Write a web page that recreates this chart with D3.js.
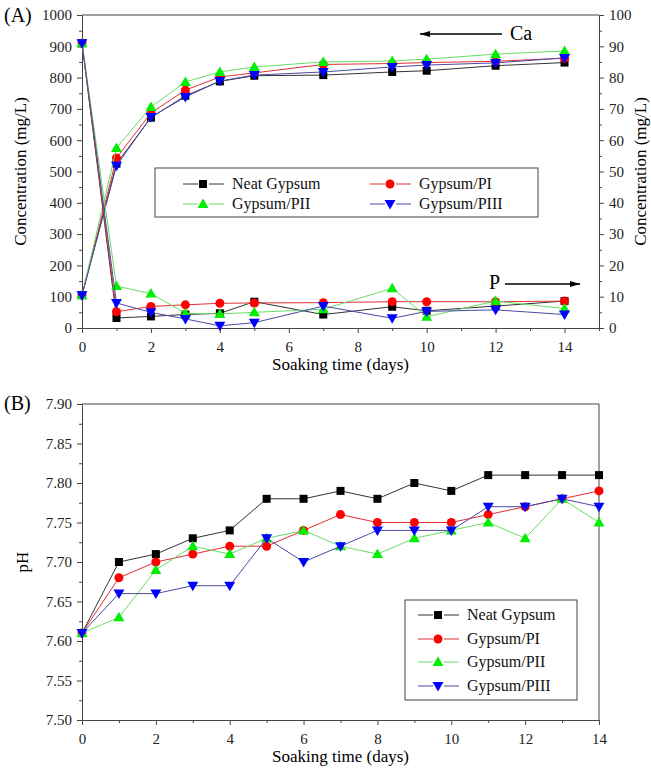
<!DOCTYPE html>
<html>
<head>
<meta charset="utf-8">
<script src="https://cdn.jsdelivr.net/npm/d3@7"></script>
<style>
  body { margin: 0; background: #fff; }
  .axis path, .axis line { stroke: #444; }
</style>
</head>
<body>
<div id="chart"></div>
<script>
// panel A: Ca and P concentration
const daysA = [0, 1, 2, 3, 4, 5, 7, 9, 10, 12, 14];
const caNeat = [105, 525, 672, 742, 788, 806, 808, 818, 822, 838, 848];
const caPI = [105, 543, 687, 760, 802, 815, 842, 845, 848, 852, 862];
const caPII = [105, 575, 706, 786, 818, 834, 850, 853, 859, 875, 885];
const caPIII = [105, 518, 674, 738, 789, 808, 818, 834, 840, 847, 863];
const pNeat = [91, 3.2, 3.7, 4.3, 4.7, 8.4, 4.3, 6.8, 5.5, 7.0, 8.6];
const pPI = [91, 5.2, 6.9, 7.4, 7.9, 8.0, 8.1, 8.4, 8.4, 8.4, 8.6];
const pPII = [91, 13.4, 11, 4.7, 4.5, 5.0, 6.0, 12.7, 3.6, 8.6, 6.2];
const pPIII = [91, 8.0, 5.0, 2.9, 0.7, 1.7, 7.0, 3.1, 5.3, 5.8, 4.3];

// panel B: pH
const daysB = [0, 1, 2, 3, 4, 5, 6, 7, 8, 9, 10, 11, 12, 13, 14];
const phNeat = [7.61, 7.70, 7.71, 7.73, 7.74, 7.78, 7.78, 7.79, 7.78, 7.80, 7.79, 7.81, 7.81, 7.81, 7.81];
const phPI = [7.61, 7.68, 7.70, 7.71, 7.72, 7.72, 7.74, 7.76, 7.75, 7.75, 7.75, 7.76, 7.77, 7.78, 7.79];
const phPII = [7.61, 7.63, 7.69, 7.72, 7.71, 7.73, 7.74, 7.72, 7.71, 7.73, 7.74, 7.75, 7.73, 7.78, 7.75];
const phPIII = [7.61, 7.66, 7.66, 7.67, 7.67, 7.73, 7.70, 7.72, 7.74, 7.74, 7.74, 7.77, 7.77, 7.78, 7.77];

const seriesNames = ['Neat Gypsum', 'Gypsum/PI', 'Gypsum/PII', 'Gypsum/PIII'];
const lineColors = ['#333333', '#e03030', '#66dd66', '#4a4aa8'];
const markColors = ['#000000', '#ff0000', '#00ee00', '#0000ff'];
const markShapes = ['square', 'circle', 'up', 'down'];

const FONT = '"Liberation Serif", "Times New Roman", serif';

const svg = d3.select('#chart').append('svg')
  .attr('width', 651)
  .attr('height', 769)
  .attr('font-family', FONT);

function marker(g, shape, color, cx, cy) {
  if (shape === 'square') {
    g.append('rect').attr('x', cx - 4).attr('y', cy - 4)
      .attr('width', 8).attr('height', 8).attr('fill', color);
  } else if (shape === 'circle') {
    g.append('circle').attr('cx', cx).attr('cy', cy).attr('r', 4.5).attr('fill', color);
  } else if (shape === 'up') {
    g.append('path').attr('fill', color)
      .attr('d', 'M' + cx + ',' + (cy - 5.5) + 'L' + (cx + 5.5) + ',' + (cy + 4) + 'L' + (cx - 5.5) + ',' + (cy + 4) + 'Z');
  } else {
    g.append('path').attr('fill', color)
      .attr('d', 'M' + cx + ',' + (cy + 5.5) + 'L' + (cx + 5.5) + ',' + (cy - 4) + 'L' + (cx - 5.5) + ',' + (cy - 4) + 'Z');
  }
}

function drawSeries(g, x, y, xs, ys, i) {
  const line = d3.line().x((d, k) => x(xs[k])).y(d => y(d));
  g.append('path')
    .attr('d', line(ys))
    .attr('fill', 'none')
    .attr('stroke', lineColors[i])
    .attr('stroke-width', 1);
  ys.forEach((v, k) => marker(g, markShapes[i], markColors[i], x(xs[k]), y(v)));
}

function drawLegend(g, items) {
  items.forEach(it => {
    g.append('line').attr('x1', it.x).attr('x2', it.x + 15).attr('y1', it.y).attr('y2', it.y)
      .attr('stroke', lineColors[it.i]);
    g.append('line').attr('x1', it.x + 26).attr('x2', it.x + 41).attr('y1', it.y).attr('y2', it.y)
      .attr('stroke', lineColors[it.i]);
    marker(g, markShapes[it.i], markColors[it.i], it.x + 20, it.y);
    g.append('text').attr('x', it.x + 49).attr('y', it.y + 5)
      .attr('font-size', 16).attr('fill', '#111').text(seriesNames[it.i]);
  });
}

// shared axis styling
function styleAxis(sel) {
  sel.attr('font-family', FONT).attr('font-size', 15);
  sel.selectAll('text').attr('fill', '#222');
}

// ---------- panel A ----------
const left = 82, right = 599;
const topA = 15, botA = 328;
const xA = d3.scaleLinear().domain([0, 15]).range([left, right]);
const yA = d3.scaleLinear().domain([0, 1000]).range([botA, topA]);
const yA2 = d3.scaleLinear().domain([0, 100]).range([botA, topA]);

const gA = svg.append('g');

// minor ticks
gA.append('g').attr('class', 'axis').attr('transform', 'translate(' + left + ',0)')
  .call(d3.axisLeft(yA).tickValues(d3.range(50, 1000, 100)).tickSize(3).tickFormat('').tickSizeOuter(0));
gA.append('g').attr('class', 'axis').attr('transform', 'translate(' + right + ',0)')
  .call(d3.axisRight(yA2).tickValues(d3.range(5, 100, 10)).tickSize(3).tickFormat('').tickSizeOuter(0));
gA.append('g').attr('class', 'axis').attr('transform', 'translate(0,' + botA + ')')
  .call(d3.axisBottom(xA).tickValues(d3.range(1, 16, 2)).tickSize(3).tickFormat('').tickSizeOuter(0));
// major ticks
gA.append('g').attr('class', 'axis').attr('transform', 'translate(' + left + ',0)')
  .call(d3.axisLeft(yA).tickValues(d3.range(0, 1001, 100)).tickSize(5).tickPadding(5).tickFormat(d3.format('d')).tickSizeOuter(0))
  .call(styleAxis);
gA.append('g').attr('class', 'axis').attr('transform', 'translate(' + right + ',0)')
  .call(d3.axisRight(yA2).tickValues(d3.range(0, 101, 10)).tickSize(5).tickPadding(5).tickSizeOuter(0))
  .call(styleAxis);
gA.append('g').attr('class', 'axis').attr('transform', 'translate(0,' + botA + ')')
  .call(d3.axisBottom(xA).tickValues(d3.range(0, 15, 2)).tickSize(5).tickPadding(8).tickSizeOuter(0))
  .call(styleAxis);
gA.append('line').attr('x1', left).attr('x2', right).attr('y1', topA).attr('y2', topA).attr('stroke', '#444');

[caNeat, caPI, caPII, caPIII].forEach((s, i) => drawSeries(gA, xA, yA, daysA, s, i));
[pNeat, pPI, pPII, pPIII].forEach((s, i) => drawSeries(gA, xA, yA2, daysA, s, i));

// legend A
gA.append('rect').attr('x', 155).attr('y', 168).attr('width', 383).attr('height', 49)
  .attr('fill', '#fff').attr('stroke', '#444');
drawLegend(gA, [
  { i: 0, x: 183, y: 184 }, { i: 1, x: 370, y: 184 },
  { i: 2, x: 183, y: 204 }, { i: 3, x: 370, y: 204 }
]);

// arrows
svg.append('defs').append('marker').attr('id', 'ah').attr('viewBox', '0 0 10 6')
  .attr('refX', 10).attr('refY', 3).attr('markerWidth', 10).attr('markerHeight', 6)
  .attr('orient', 'auto').attr('markerUnits', 'userSpaceOnUse')
  .append('path').attr('d', 'M0,0L10,3L0,6Z').attr('fill', '#000');
gA.append('line').attr('x1', 502).attr('x2', 420).attr('y1', 34).attr('y2', 34)
  .attr('stroke', '#000').attr('stroke-width', 1.5).attr('marker-end', 'url(#ah)');
gA.append('text').attr('x', 510).attr('y', 40).attr('font-size', 20).text('Ca');
gA.append('line').attr('x1', 505).attr('x2', 580).attr('y1', 284).attr('y2', 284)
  .attr('stroke', '#000').attr('stroke-width', 1.5).attr('marker-end', 'url(#ah)');
gA.append('text').attr('x', 489).attr('y', 289).attr('font-size', 20).text('P');

gA.append('text').attr('transform', 'translate(26,' + ((topA + botA) / 2) + ') rotate(-90)')
  .attr('text-anchor', 'middle').attr('font-size', 17).text('Concentration (mg/L)');
gA.append('text').attr('transform', 'translate(646,' + ((topA + botA) / 2) + ') rotate(-90)')
  .attr('text-anchor', 'middle').attr('font-size', 17).text('Concentration (mg/L)');
gA.append('text').attr('x', (left + right) / 2).attr('y', 370)
  .attr('text-anchor', 'middle').attr('font-size', 17).text('Soaking time (days)');
gA.append('text').attr('x', 4).attr('y', 22).attr('font-size', 20).text('(A)');

// ---------- panel B ----------
const topB = 404, botB = 720;
const xB = d3.scaleLinear().domain([0, 14]).range([left, right]);
const yB = d3.scaleLinear().domain([7.5, 7.9]).range([botB, topB]);
const gB = svg.append('g');

gB.append('g').attr('class', 'axis').attr('transform', 'translate(' + left + ',0)')
  .call(d3.axisLeft(yB).tickValues(d3.range(0, 8).map(k => 7.525 + k * 0.05)).tickSize(3).tickFormat('').tickSizeOuter(0));
gB.append('g').attr('class', 'axis').attr('transform', 'translate(0,' + botB + ')')
  .call(d3.axisBottom(xB).tickValues(d3.range(1, 14, 2)).tickSize(3).tickFormat('').tickSizeOuter(0));
gB.append('g').attr('class', 'axis').attr('transform', 'translate(' + left + ',0)')
  .call(d3.axisLeft(yB).tickValues(d3.range(0, 9).map(k => 7.5 + k * 0.05)).tickSize(5).tickPadding(5).tickFormat(d3.format('.2f')).tickSizeOuter(0))
  .call(styleAxis);
gB.append('g').attr('class', 'axis').attr('transform', 'translate(0,' + botB + ')')
  .call(d3.axisBottom(xB).tickValues(d3.range(0, 15, 2)).tickSize(5).tickPadding(8).tickSizeOuter(0))
  .call(styleAxis);
gB.append('path').attr('d', 'M' + left + ',' + topB + 'H' + right + 'V' + botB)
  .attr('fill', 'none').attr('stroke', '#444');

[phNeat, phPI, phPII, phPIII].forEach((s, i) => drawSeries(gB, xB, yB, daysB, s, i));

gB.append('rect').attr('x', 405).attr('y', 600).attr('width', 172).attr('height', 100)
  .attr('fill', '#fff').attr('stroke', '#444');
drawLegend(gB, [
  { i: 0, x: 418, y: 615 }, { i: 1, x: 418, y: 639 },
  { i: 2, x: 418, y: 662 }, { i: 3, x: 418, y: 686 }
]);

gB.append('text').attr('transform', 'translate(28,' + ((topB + botB) / 2) + ') rotate(-90)')
  .attr('text-anchor', 'middle').attr('font-size', 17).text('pH');
gB.append('text').attr('x', (left + right) / 2).attr('y', 762)
  .attr('text-anchor', 'middle').attr('font-size', 17).text('Soaking time (days)');
gB.append('text').attr('x', 4).attr('y', 410).attr('font-size', 20).text('(B)');
</script>
</body>
</html>
